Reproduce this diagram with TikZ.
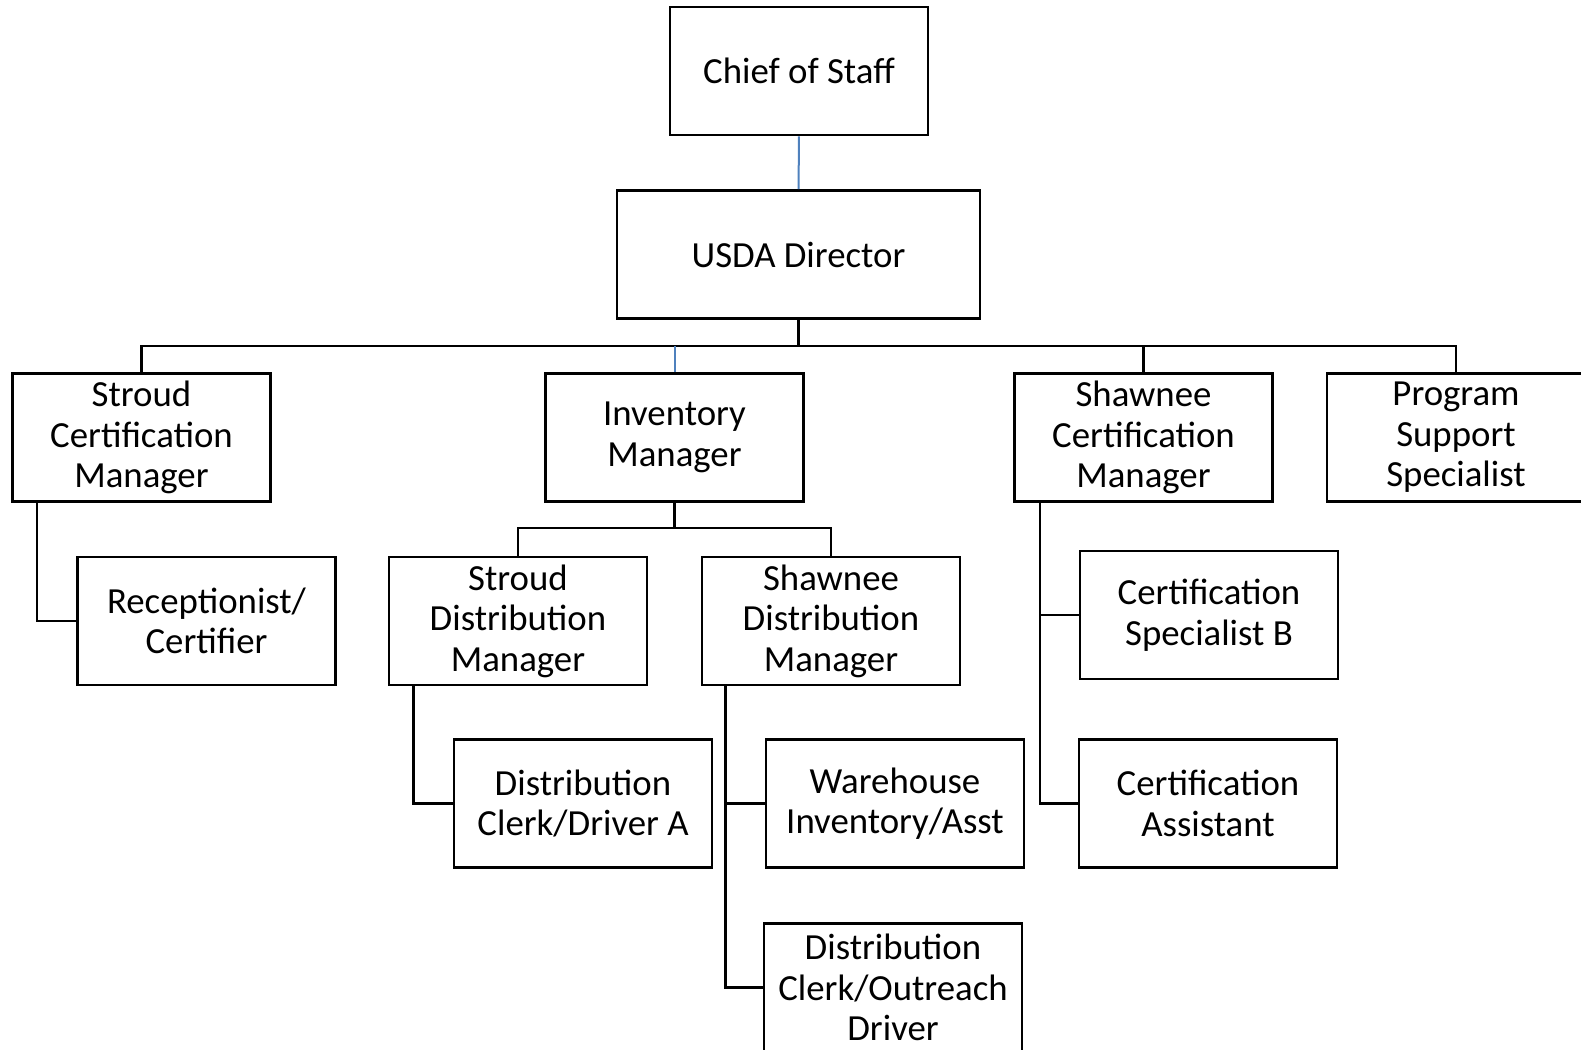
\documentclass[tikz,border=0pt]{standalone}
\usepackage{fontspec}
\setmainfont{Carlito}
\usepackage{xcolor}
\usetikzlibrary{positioning}
\definecolor{linkblue}{HTML}{4F81BD}

\begin{document}
\begin{tikzpicture}[x=0.5pt, y=-0.5pt, line width=1.2pt,
        main node/.style={rectangle,draw,line width=1.4pt,minimum width=129pt,minimum height=64pt,inner sep=0pt,align=center,
            font=\fontsize{18.4pt}{20.3pt}\selectfont},
        wide node/.style={main node,minimum width=181.5pt},
        blue link/.style={draw=linkblue,line width=1pt}]
    \useasboundingbox (0,0) rectangle (1581,1050);

    \node[main node] (chief) at (799,71) {Chief of Staff};
    \node[wide node] (dir) at (798.5,254.5) {USDA Director};

    \node[main node] (scm) at (141.5,437.5) {Stroud\\Certification\\Manager};
    \node[main node] (inv) at (674.5,437.5) {Inventory\\Manager};
    \node[main node] (shcm) at (1143.5,437.5) {Shawnee\\Certification\\Manager};
    \node[main node] (psp) at (1456,437.5) {Program\\Support\\Specialist};

    \node[main node] (rec) at (206.5,621) {Receptionist/\\Certifier};
    \node[main node] (sdm) at (518,621) {Stroud\\Distribution\\Manager};
    \node[main node] (shdm) at (831,621) {Shawnee\\Distribution\\Manager};
    \node[main node] (csb) at (1209,615) {Certification\\Specialist B};

    \node[main node] (dca) at (583,803.5) {Distribution\\Clerk/Driver A};
    \node[main node] (wia) at (895,803.5) {Warehouse\\Inventory/Asst};
    \node[main node] (ca) at (1208,803.5) {Certification\\Assistant};
    \node[main node] (dco) at (893,987.5) {Distribution\\Clerk/Outreach\\Driver};

    \coordinate (bus) at (0,346);
    \coordinate (invbus) at (0,528);

    \path[blue link] (chief) -- (dir);
    \draw (dir.south) -- (dir.south |- bus);
    \draw (scm.north) |- (dir.south |- bus) -| (psp.north);
    \draw (shcm.north) -- (shcm.north |- bus);
    \path[blue link] (inv.north) -- (inv.north |- bus);

    \draw (inv.south) -- (invbus -| inv.south);
    \draw (sdm.north) |- (invbus -| inv.south) -| (shdm.north);

    \draw ([xshift=13pt]scm.south west) |- (rec.west);
    \draw ([xshift=13pt]sdm.south west) |- (dca.west);
    \draw ([xshift=12.5pt]shdm.south west) |- (dco.west);
    \draw ([xshift=12.5pt]shdm.south west |- wia.west) -- (wia.west);
    \draw ([xshift=13.5pt]shcm.south west) |- (ca.west);
    \draw ([xshift=13.5pt]shcm.south west |- csb.west) -- (csb.west);
\end{tikzpicture}
\end{document}
